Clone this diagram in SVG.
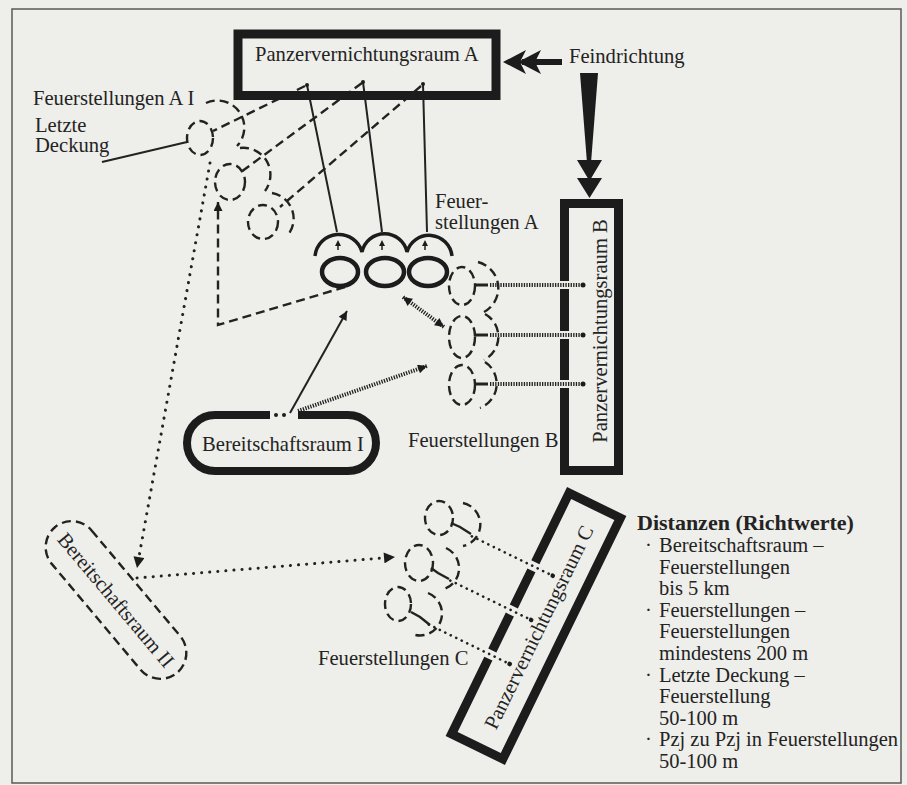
<svg xmlns="http://www.w3.org/2000/svg" width="907" height="785" viewBox="0 0 907 785">
<defs>
<style>
.t{font-family:"Liberation Serif","Times New Roman",serif;font-size:20.6px;fill:#232323}
.l{font-size:20.5px}
.b{font-weight:bold;font-size:22px}
.box{fill:none;stroke:#1c1c1c;stroke-width:9;stroke-linejoin:miter}
.dash{fill:none;stroke:#222;stroke-width:2.4;stroke-dasharray:9 5}
.thin{fill:none;stroke:#222;stroke-width:2}
.hat{fill:none;stroke:#222;stroke-width:4;stroke-dasharray:1.3 1.3}
.dot{fill:none;stroke:#222;stroke-width:3;stroke-linecap:round;stroke-dasharray:0.1 8}
.dotc{fill:none;stroke:#222;stroke-width:2.6;stroke-linecap:round;stroke-dasharray:0.1 6}
.sol{fill:none;stroke:#1c1c1c;stroke-width:4.5}
.ink{fill:#1c1c1c}
</style>
<marker id="ah" viewBox="0 0 10 10" refX="10" refY="5" markerWidth="11" markerHeight="9" markerUnits="userSpaceOnUse" orient="auto-start-reverse"><path d="M0,0 L10,5 L0,10 Z" fill="#1c1c1c"/></marker>
<marker id="ahL" viewBox="0 0 10 10" refX="10" refY="5" markerWidth="13" markerHeight="11" markerUnits="userSpaceOnUse" orient="auto-start-reverse"><path d="M0,0 L10,5 L0,10 Z" fill="#1c1c1c"/></marker>
</defs>
<rect x="0" y="0" width="907" height="785" fill="#eeeeea"/>
<rect x="12" y="9" width="889" height="774" fill="none" stroke="#5a5a5a" stroke-width="1.5"/>

<g id="connectors">
  <!-- Feindrichtung -->
  <rect x="522" y="59" width="40" height="6" class="ink"/>
  <path class="ink" d="M503,62 L526,50 L520,62 L526,74 Z M518,62 L541,50 L535,62 L541,74 Z"/>
  <path class="ink" d="M580,73 L598,73 L591,163 L587,163 Z"/>
  <path class="ink" d="M577,160 L602,160 L589.5,181 Z M577,178 L602,178 L589.5,198 Z"/>
  <!-- A box to Feuerstellungen A (solid) -->
  <path class="thin" d="M337,232 L307,85 M382,232 L363,82 M427,232 L423,84"/>
  <!-- A box to Feuerstellungen A I (dashed) -->
  <path class="dash" d="M305,86 L213,131 M362,83 L241,172 M421,86 L280,207"/>
  <circle cx="307" cy="85" r="2" class="ink"/><circle cx="363" cy="82" r="2" class="ink"/><circle cx="423" cy="84" r="2" class="ink"/>
  <!-- Letzte Deckung leader -->
  <path class="thin" d="M102,162 L187,142"/>
  <!-- dashed arrow from Feuerstellungen A to A I -->
  <path class="dash" d="M345,287 L218,325 L218,202" marker-end="url(#ah)"/>
  <!-- dotted: A I to Bereitschaftsraum II -->
  <path class="dot" d="M210,163 L137,568" marker-end="url(#ahL)"/>
  <path class="dot" d="M137,578 L395,557" marker-end="url(#ahL)"/>
  <!-- Bereitschaftsraum I arrows -->
  <path class="thin" d="M290,413 L347,311" marker-end="url(#ah)"/>
  <path class="hat" d="M298,411 L427,366" marker-end="url(#ah)"/>
  <path class="hat" d="M403,297 L444,327" marker-start="url(#ah)" marker-end="url(#ah)"/>
  <!-- Feuerstellungen B to box B -->
  <path class="thin" d="M474,285 H488 M474,335 H488 M474,384 H488" style="stroke-width:3"/>
  <path class="hat" d="M490,285 H580 M490,335 H580 M490,384 H580"/>
  <circle cx="583" cy="285" r="2.5" class="ink"/><circle cx="583" cy="335" r="2.5" class="ink"/><circle cx="583" cy="384" r="2.5" class="ink"/>
  <!-- Feuerstellungen C to box C -->
  <g transform="translate(536,626) rotate(-64)">
    <path class="dotc" d="M52.5,-97 V-10 M3.3,-97 V-10 M-45.7,-97 V-10"/>
    <circle cx="52.5" cy="-7" r="2.3" class="ink"/><circle cx="3.3" cy="-7" r="2.3" class="ink"/><circle cx="-45.7" cy="-7" r="2.3" class="ink"/>
  </g>
</g>

<g id="pvr-a">
  <rect class="box" x="238" y="34" width="258" height="61.5"/>
  <text class="t" x="255" y="61">Panzervernichtungsraum A</text>
</g>
<text id="feindrichtung" class="t" x="569" y="63">Feindrichtung</text>

<g id="pvr-b">
  <path class="box" d="M564.5,289 L564.5,331 M564.5,339 L564.5,380 M564.5,388 L564.5,470.5 L618.5,470.5 L618.5,203.5 L564.5,203.5 L564.5,281"/>
  <text class="t" transform="translate(607,331) rotate(-90)" text-anchor="middle">Panzervernichtungsraum B</text>
</g>

<g id="pvr-c" transform="translate(536,626) rotate(-64)">
  <path class="box" d="M48,-28.5 L7.8,-28.5 M-1.2,-28.5 L-41.2,-28.5 M-50.2,-28.5 L-134,-28.5 L-134,28.5 L134,28.5 L134,-28.5 L57,-28.5"/>
  <text class="t" x="0" y="10" text-anchor="middle">Panzervernichtungsraum C</text>
</g>

<g id="fs-ai">
  <text class="t" x="33" y="105">Feuerstellungen A I</text>
  <text class="t" x="35" y="132">Letzte</text>
  <text class="t" x="35" y="152">Deckung</text>
  <ellipse cx="200" cy="138" rx="13" ry="17" class="dash"/>
  <ellipse cx="230" cy="182" rx="15" ry="18" class="dash"/>
  <ellipse cx="263" cy="222" rx="15" ry="17" class="dash"/>
  <path class="dash" d="M206,103 A27,27 0 0 1 237,146 M240,148 A27,27 0 0 1 265,191 M272,193 A26,26 0 0 1 287,236"/>
</g>

<g id="fs-a">
  <path class="sol" style="stroke-width:3.5" d="M315,256 A24,24 0 0 1 362,252 A23,23 0 0 1 407,252 A23,23 0 0 1 452,256"/>
  <ellipse cx="340" cy="272" rx="18" ry="14" class="sol"/>
  <ellipse cx="385" cy="272" rx="19" ry="14" class="sol"/>
  <ellipse cx="428" cy="272" rx="19" ry="14" class="sol"/>
  <path class="ink" d="M338,240 l-3,6 h6 z M382,240 l-3,6 h6 z M425,240 l-3,6 h6 z"/>
  <path class="thin" style="stroke-width:1.5" d="M338,246 v4 M382,246 v4 M425,246 v4"/>
  <text class="t" x="435" y="208">Feuer-</text>
  <text class="t" x="435" y="229">stellungen A</text>
</g>

<g id="fs-b">
  <ellipse cx="462" cy="286" rx="13" ry="19" class="dash"/>
  <ellipse cx="462" cy="337" rx="13" ry="21" class="dash"/>
  <ellipse cx="462" cy="385" rx="13" ry="20" class="dash"/>
  <path class="dash" d="M478,262 A27,27 0 0 1 484,312 M485,314 A26,26 0 0 1 484,360 M485,362 A26,26 0 0 1 480,408"/>
  <text class="t" x="408" y="447">Feuerstellungen B</text>
</g>

<g id="fs-c">
  <ellipse cx="439" cy="518" rx="14" ry="17" class="dash"/>
  <ellipse cx="419" cy="563" rx="14" ry="18" class="dash"/>
  <ellipse cx="398" cy="604" rx="13" ry="17" class="dash"/>
  <path class="dash" d="M463,503 A22,22 0 0 1 463,546 M446,548 A22,22 0 0 1 444,589 M428,593 A22,22 0 0 1 412,634"/>
  <path class="thin" style="stroke-width:2.4" d="M451,523 L460,527 L471,534 M431,568 L438,573 L449,579 M411,612 L420,617 L430,625"/>
  <text class="t" x="318" y="665">Feuerstellungen C</text>
</g>

<g id="br1">
  <path class="box" style="stroke-width:8" d="M298,415 L348,415 A28,28 0 0 1 348,471 L215,471 A28,28 0 0 1 215,415 L270,415"/>
  <circle cx="276" cy="415" r="2" class="ink"/><circle cx="284" cy="415" r="2" class="ink"/>
  <text class="t" x="202" y="451">Bereitschaftsraum I</text>
</g>

<g id="br2" transform="translate(116,600) rotate(50)">
  <rect x="-95" y="-26" width="190" height="52" rx="26" class="dash"/>
  <text class="t" x="0" y="7" text-anchor="middle">Bereitschaftsraum II</text>
</g>

<g id="distanzen">
  <text class="t b" x="637" y="530">Distanzen (Richtwerte)</text>
  <text class="t l" x="645" y="552">·</text>
  <text class="t l" x="659" y="552">Bereitschaftsraum –</text>
  <text class="t l" x="659" y="573.6">Feuerstellungen</text>
  <text class="t l" x="659" y="595.2">bis 5 km</text>
  <text class="t l" x="645" y="616.8">·</text>
  <text class="t l" x="659" y="616.8">Feuerstellungen –</text>
  <text class="t l" x="659" y="638.4">Feuerstellungen</text>
  <text class="t l" x="659" y="660">mindestens 200 m</text>
  <text class="t l" x="645" y="681.6">·</text>
  <text class="t l" x="659" y="681.6">Letzte Deckung –</text>
  <text class="t l" x="659" y="703.2">Feuerstellung</text>
  <text class="t l" x="659" y="724.8">50-100 m</text>
  <text class="t l" x="645" y="746.4">·</text>
  <text class="t l" x="659" y="746.4">Pzj zu Pzj in Feuerstellungen</text>
  <text class="t l" x="659" y="768">50-100 m</text>
</g>
</svg>
